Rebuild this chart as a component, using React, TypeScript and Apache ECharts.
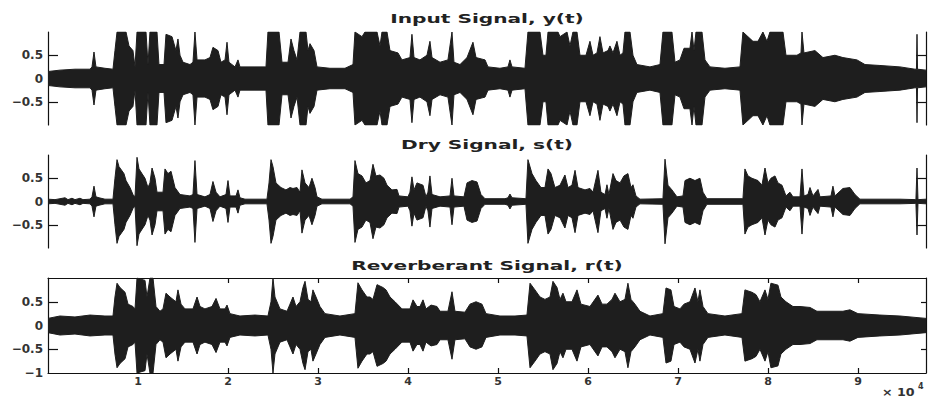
import React, { useEffect, useRef } from "react";
import * as echarts from "echarts";

// Envelope breakpoints: [time (x 10^4 samples), amplitude]; drawn symmetric about 0
const INPUT_ENV: [number, number][] = [
  [0, 0.15], [0.133, 0.18], [0.3, 0.2], [0.467, 0.2], [0.489, 0.25], [0.511, 0.57], [0.533, 0.25],
  [0.633, 0.22], [0.722, 0.2], [0.744, 0.6], [0.767, 1.0], [0.867, 1.0], [0.9, 0.7], [0.944, 0.6],
  [0.967, 0.25], [0.989, 1.0], [1.089, 1.0], [1.111, 0.3], [1.133, 1.0], [1.211, 1.0], [1.233, 0.3],
  [1.289, 0.3], [1.311, 0.95], [1.378, 0.9], [1.422, 0.6], [1.444, 0.85], [1.467, 0.5], [1.5, 0.35],
  [1.578, 0.3], [1.611, 0.35], [1.633, 1.0], [1.656, 0.4], [1.744, 0.4], [1.8, 0.45], [1.833, 0.67],
  [1.889, 0.6], [1.922, 0.35], [1.967, 0.4], [1.989, 0.78], [2.011, 0.35], [2.078, 0.25], [2.111, 0.4],
  [2.133, 0.25], [2.3, 0.25], [2.422, 0.25], [2.444, 1.0], [2.567, 1.0], [2.6, 0.35], [2.667, 0.35],
  [2.7, 0.85], [2.733, 0.6], [2.767, 0.4], [2.8, 1.0], [2.867, 1.0], [2.889, 0.6], [2.911, 0.75],
  [2.956, 0.6], [2.989, 0.25], [3.133, 0.22], [3.3, 0.22], [3.389, 0.3], [3.411, 1.0], [3.489, 0.9],
  [3.522, 1.0], [3.656, 1.0], [3.689, 0.7], [3.711, 1.0], [3.767, 1.0], [3.8, 0.6], [3.889, 0.55],
  [3.933, 0.4], [4.022, 0.45], [4.044, 0.95], [4.067, 0.45], [4.133, 0.4], [4.211, 0.5], [4.244, 0.8],
  [4.267, 0.45], [4.356, 0.35], [4.444, 0.4], [4.489, 1.0], [4.511, 0.35], [4.578, 0.3], [4.656, 0.45],
  [4.722, 0.78], [4.756, 0.45], [4.856, 0.4], [4.889, 0.25], [5.022, 0.22], [5.111, 0.25], [5.133, 0.4],
  [5.156, 0.25], [5.3, 0.22], [5.333, 1.0], [5.467, 1.0], [5.5, 0.5], [5.533, 0.5], [5.556, 1.0],
  [5.667, 1.0], [5.689, 0.9], [5.767, 1.0], [5.8, 0.7], [5.833, 1.0], [5.878, 1.0], [5.911, 0.5],
  [5.978, 0.5], [6.022, 0.8], [6.056, 0.5], [6.1, 0.55], [6.133, 0.9], [6.167, 0.55], [6.222, 0.6],
  [6.244, 0.7], [6.278, 0.55], [6.322, 0.8], [6.356, 0.5], [6.389, 0.55], [6.411, 1.0], [6.467, 1.0],
  [6.5, 0.5], [6.544, 0.3], [6.689, 0.25], [6.8, 0.3], [6.833, 1.0], [6.933, 1.0], [6.967, 0.35],
  [7.022, 0.4], [7.067, 0.65], [7.133, 0.65], [7.156, 1.0], [7.178, 0.6], [7.2, 1.0], [7.267, 1.0],
  [7.3, 0.4], [7.356, 0.25], [7.522, 0.22], [7.689, 0.25], [7.722, 1.0], [7.833, 0.8], [7.889, 0.8],
  [7.944, 1.0], [7.989, 0.8], [8.022, 1.0], [8.167, 1.0], [8.2, 0.5], [8.322, 0.5], [8.367, 0.55],
  [8.378, 1.0], [8.4, 0.55], [8.522, 0.6], [8.611, 0.45], [8.744, 0.5], [8.833, 0.45], [8.989, 0.4],
  [9.078, 0.3], [9.244, 0.28], [9.467, 0.25], [9.633, 0.2], [9.65, 0.2], [9.656, 0.95], [9.662, 0.2],
  [9.756, 0.18],
];

const DRY_ENV: [number, number][] = [
  [0, 0.05], [0.078, 0.04], [0.189, 0.08], [0.222, 0.04], [0.267, 0.07], [0.3, 0.04], [0.356, 0.07],
  [0.389, 0.04], [0.467, 0.05], [0.489, 0.1], [0.511, 0.33], [0.533, 0.1], [0.567, 0.08], [0.633, 0.05],
  [0.722, 0.05], [0.744, 0.5], [0.767, 0.9], [0.789, 0.75], [0.844, 0.6], [0.867, 0.45], [0.911, 0.3],
  [0.944, 0.15], [0.967, 0.1], [0.989, 0.95], [1.011, 0.7], [1.044, 0.6], [1.078, 0.5], [1.111, 0.3],
  [1.133, 0.4], [1.156, 0.72], [1.189, 0.5], [1.211, 0.2], [1.278, 0.2], [1.3, 0.7], [1.333, 0.6],
  [1.367, 0.65], [1.411, 0.3], [1.467, 0.15], [1.578, 0.12], [1.611, 0.15], [1.633, 0.88], [1.656, 0.15],
  [1.744, 0.1], [1.8, 0.15], [1.833, 0.43], [1.867, 0.2], [1.911, 0.1], [1.978, 0.15], [2.0, 0.45],
  [2.022, 0.12], [2.089, 0.12], [2.111, 0.25], [2.133, 0.08], [2.189, 0.05], [2.433, 0.05], [2.456, 0.4],
  [2.478, 0.9], [2.5, 0.75], [2.533, 0.4], [2.589, 0.3], [2.644, 0.25], [2.689, 0.3], [2.722, 0.28],
  [2.767, 0.3], [2.8, 0.2], [2.822, 0.68], [2.856, 0.4], [2.9, 0.3], [2.933, 0.5], [2.967, 0.3],
  [2.989, 0.1], [3.044, 0.05], [3.356, 0.05], [3.389, 0.1], [3.411, 0.88], [3.444, 0.6], [3.489, 0.55],
  [3.533, 0.4], [3.578, 0.45], [3.611, 0.8], [3.644, 0.55], [3.689, 0.57], [3.733, 0.5], [3.767, 0.35],
  [3.822, 0.25], [3.878, 0.26], [3.9, 0.12], [4.0, 0.1], [4.022, 0.2], [4.044, 0.53], [4.067, 0.25],
  [4.1, 0.4], [4.167, 0.35], [4.2, 0.1], [4.222, 0.2], [4.244, 0.55], [4.267, 0.15], [4.356, 0.1],
  [4.467, 0.12], [4.489, 0.5], [4.511, 0.12], [4.622, 0.1], [4.656, 0.4], [4.711, 0.45], [4.767, 0.42],
  [4.811, 0.15], [4.856, 0.06], [5.078, 0.06], [5.111, 0.08], [5.133, 0.16], [5.156, 0.08], [5.311, 0.06],
  [5.333, 0.9], [5.378, 0.6], [5.422, 0.45], [5.478, 0.3], [5.522, 0.3], [5.556, 0.7], [5.589, 0.6],
  [5.633, 0.3], [5.689, 0.35], [5.744, 0.57], [5.778, 0.3], [5.822, 0.35], [5.856, 0.67], [5.889, 0.3],
  [5.967, 0.25], [6.022, 0.28], [6.056, 0.2], [6.111, 0.67], [6.144, 0.2], [6.189, 0.15], [6.211, 0.36],
  [6.233, 0.15], [6.278, 0.6], [6.311, 0.45], [6.356, 0.4], [6.4, 0.55], [6.444, 0.6], [6.478, 0.3],
  [6.5, 0.36], [6.533, 0.12], [6.578, 0.05], [6.833, 0.06], [6.856, 0.91], [6.889, 0.35], [6.933, 0.25],
  [6.989, 0.1], [7.056, 0.12], [7.078, 0.45], [7.133, 0.5], [7.189, 0.45], [7.244, 0.5], [7.278, 0.2],
  [7.322, 0.06], [7.722, 0.06], [7.744, 0.7], [7.778, 0.55], [7.822, 0.5], [7.889, 0.45], [7.933, 0.35],
  [7.967, 0.72], [8.0, 0.4], [8.033, 0.5], [8.078, 0.55], [8.111, 0.4], [8.156, 0.35], [8.2, 0.12],
  [8.244, 0.2], [8.278, 0.1], [8.356, 0.1], [8.378, 0.7], [8.4, 0.12], [8.444, 0.15], [8.467, 0.3],
  [8.5, 0.12], [8.556, 0.26], [8.578, 0.1], [8.7, 0.12], [8.722, 0.33], [8.744, 0.12], [8.833, 0.28],
  [8.911, 0.3], [8.967, 0.15], [9.022, 0.05], [9.467, 0.05], [9.644, 0.04], [9.656, 0.72], [9.667, 0.04],
  [9.756, 0.05],
];

const REVERB_ENV: [number, number][] = [
  [0, 0.15], [0.133, 0.2], [0.3, 0.18], [0.467, 0.22], [0.633, 0.2], [0.722, 0.2], [0.744, 0.6],
  [0.767, 0.89], [0.8, 0.8], [0.856, 0.7], [0.889, 0.45], [0.944, 0.4], [0.967, 0.35], [0.989, 1.0],
  [1.078, 0.95], [1.1, 0.6], [1.133, 1.0], [1.167, 1.0], [1.2, 0.4], [1.244, 0.3], [1.278, 0.35],
  [1.311, 0.68], [1.356, 0.6], [1.389, 0.55], [1.422, 0.5], [1.444, 0.75], [1.478, 0.45], [1.522, 0.35],
  [1.611, 0.35], [1.656, 0.6], [1.689, 0.4], [1.744, 0.35], [1.822, 0.4], [1.867, 0.57], [1.911, 0.35],
  [1.967, 0.35], [1.989, 0.43], [2.022, 0.25], [2.133, 0.2], [2.3, 0.22], [2.444, 0.2], [2.478, 0.5],
  [2.5, 1.0], [2.522, 0.6], [2.578, 0.35], [2.656, 0.3], [2.689, 0.45], [2.722, 0.6], [2.756, 0.4],
  [2.8, 0.5], [2.833, 0.8], [2.856, 0.93], [2.889, 0.55], [2.922, 0.5], [2.944, 0.75], [2.978, 0.6],
  [3.022, 0.4], [3.078, 0.25], [3.244, 0.2], [3.411, 0.25], [3.444, 0.9], [3.489, 0.75], [3.544, 0.6],
  [3.578, 0.6], [3.611, 0.55], [3.656, 0.86], [3.722, 0.8], [3.756, 0.75], [3.8, 0.6], [3.856, 0.5],
  [3.933, 0.35], [4.022, 0.35], [4.056, 0.54], [4.1, 0.4], [4.133, 0.4], [4.167, 0.54], [4.2, 0.35],
  [4.256, 0.43], [4.322, 0.4], [4.356, 0.3], [4.444, 0.3], [4.489, 0.71], [4.522, 0.3], [4.633, 0.28],
  [4.689, 0.45], [4.756, 0.5], [4.822, 0.45], [4.867, 0.25], [5.022, 0.2], [5.189, 0.2], [5.322, 0.22],
  [5.356, 0.89], [5.411, 0.75], [5.467, 0.6], [5.522, 0.55], [5.578, 0.6], [5.611, 0.93], [5.656, 0.8],
  [5.689, 0.55], [5.722, 0.68], [5.756, 0.5], [5.822, 0.5], [5.878, 0.75], [5.922, 0.45], [6.022, 0.4],
  [6.111, 0.64], [6.156, 0.45], [6.211, 0.45], [6.267, 0.55], [6.3, 0.68], [6.356, 0.5], [6.411, 0.55],
  [6.444, 0.89], [6.478, 0.55], [6.522, 0.45], [6.578, 0.3], [6.689, 0.2], [6.833, 0.25], [6.867, 0.79],
  [6.922, 0.75], [6.956, 0.4], [7.022, 0.35], [7.067, 0.45], [7.133, 0.5], [7.189, 0.79], [7.222, 0.5],
  [7.244, 0.75], [7.278, 0.4], [7.333, 0.25], [7.522, 0.2], [7.711, 0.25], [7.744, 0.75], [7.822, 0.7],
  [7.867, 0.65], [7.911, 0.5], [7.967, 0.75], [8.0, 0.55], [8.033, 0.89], [8.111, 0.85], [8.144, 0.6],
  [8.2, 0.5], [8.278, 0.4], [8.356, 0.4], [8.467, 0.38], [8.544, 0.3], [8.689, 0.3], [8.833, 0.3],
  [8.911, 0.33], [9.0, 0.25], [9.244, 0.22], [9.467, 0.2], [9.756, 0.15],
];

const TITLES = ["Input Signal, y(t)", "Dry Signal, s(t)", "Reverberant Signal, r(t)"];
const X_TICKS = [1, 2, 3, 4, 5, 6, 7, 8, 9];
const Y_TICKS = [-0.5, 0, 0.5];
const Y_LABELS_TOP = [-0.5, 0, 0.5];
const Y_LABELS_BOTTOM = [-1, -0.5, 0, 0.5];
const X_MAX = 9.756;

const INK = "#1e1e1e";
const FONT = "DejaVu Sans";

const fmtY = (v: number) => (v === 0 ? "0" : String(v).replace("-", "\u2212"));

export default function App() {
  const ref = useRef<HTMLDivElement>(null);
  useEffect(() => {
    if (!ref.current) return;
    const chart = echarts.init(ref.current, undefined, { renderer: "svg" });
    const grids = [
      { left: 48, top: 32, width: 878, height: 93 },
      { left: 48, top: 155, width: 878, height: 93 },
      { left: 48, top: 278, width: 878, height: 95 },
    ];
    const hiddenX = (gi: number) => ({
      type: "value", gridIndex: gi, min: 0, max: X_MAX,
      axisLine: { show: false }, axisTick: { show: false }, axisLabel: { show: false }, splitLine: { show: false },
    });
    const leftY = (gi: number, labels: number[]) => ({
      type: "value", gridIndex: gi, min: -1, max: 1, interval: 0.5, position: "left",
      axisLine: { show: true, onZero: false, lineStyle: { color: "#111", width: 1.2 } },
      axisTick: { show: true, inside: true, length: 10, customValues: Y_TICKS, lineStyle: { color: "#111", width: 1.2 } },
      axisLabel: {
        show: true, customValues: labels, formatter: fmtY, margin: 5,
        fontFamily: FONT, fontSize: 12, fontWeight: "bold", color: "#333",
      },
      splitLine: { show: false },
    });
    const rightY = (gi: number, tickLen: number) => ({
      type: "value", gridIndex: gi, min: -1, max: 1, interval: 0.5, position: "right",
      axisLine: { show: true, onZero: false, lineStyle: { color: "#111", width: 1.2 } },
      axisTick: { show: true, inside: true, length: tickLen, customValues: Y_TICKS, lineStyle: { color: "#111", width: 1.2 } },
      axisLabel: { show: false },
      splitLine: { show: false },
    });
    const envSeries = (env: [number, number][], xi: number, yi: number) => {
      const upper = env.map(([t, a]) => [t, a]);
      const lower = env.map(([t, a]) => [t, -a]);
      const base = {
        type: "line", xAxisIndex: xi, yAxisIndex: yi, symbol: "none", showSymbol: false, silent: true,
        lineStyle: { color: INK, width: 1 }, areaStyle: { color: INK, opacity: 1 },
      };
      return [
        {
          ...base, data: upper,
          markLine: {
            silent: true, symbol: "none", label: { show: false },
            lineStyle: { color: INK, width: 3, type: "solid" },
            data: [{ yAxis: 0 }],
          },
        },
        { ...base, data: lower },
      ];
    };
    const titleText = (text: string, y: number) => ({
      type: "text", x: 487, y, scaleX: 1.55, scaleY: 1,
      style: { text, fill: "#222", fontFamily: FONT, fontSize: 13, fontWeight: "bold", align: "center", verticalAlign: "middle" },
    });
    chart.setOption({
      animation: false,
      backgroundColor: "#ffffff",
      grid: grids,
      xAxis: [
        hiddenX(0),
        hiddenX(1),
        {
          type: "value", gridIndex: 2, min: 0, max: X_MAX, interval: 1, position: "bottom",
          axisLine: { show: true, onZero: false, lineStyle: { color: "#111", width: 1.2 } },
          axisTick: { show: true, inside: true, length: 5, customValues: X_TICKS, lineStyle: { color: "#111", width: 1.2 } },
          axisLabel: { show: true, customValues: X_TICKS, margin: 3, fontFamily: FONT, fontSize: 11, fontWeight: "bold", color: "#333" },
          splitLine: { show: false },
        },
        {
          type: "value", gridIndex: 2, min: 0, max: X_MAX, interval: 1, position: "top",
          axisLine: { show: true, onZero: false, lineStyle: { color: "#111", width: 1.2 } },
          axisTick: { show: true, inside: true, length: 5, customValues: X_TICKS, lineStyle: { color: "#111", width: 1.2 } },
          axisLabel: { show: false },
          splitLine: { show: false },
        },
      ],
      yAxis: [
        leftY(0, Y_LABELS_TOP), rightY(0, 10),
        leftY(1, Y_LABELS_TOP), rightY(1, 10),
        leftY(2, Y_LABELS_BOTTOM), rightY(2, 5),
      ],
      series: [
        ...envSeries(INPUT_ENV, 0, 0),
        ...envSeries(DRY_ENV, 1, 2),
        ...envSeries(REVERB_ENV, 2, 4),
      ],
      graphic: [
        titleText(TITLES[0], 18),
        titleText(TITLES[1], 144),
        titleText(TITLES[2], 265),
        {
          type: "text", x: 882, y: 387, scaleX: 1.15,
          style: { text: "\u00d7 10", fill: "#333", fontFamily: FONT, fontSize: 11, fontWeight: "bold" },
        },
        {
          type: "text", x: 918, y: 382,
          style: { text: "4", fill: "#333", fontFamily: FONT, fontSize: 8, fontWeight: "bold" },
        },
      ],
    });
    return () => chart.dispose();
  }, []);
  return (
    <div
      ref={ref}
      style={{ position: "absolute", left: 0, top: 0, width: 929, height: 399, background: "#fff" }}
    />
  );
}
